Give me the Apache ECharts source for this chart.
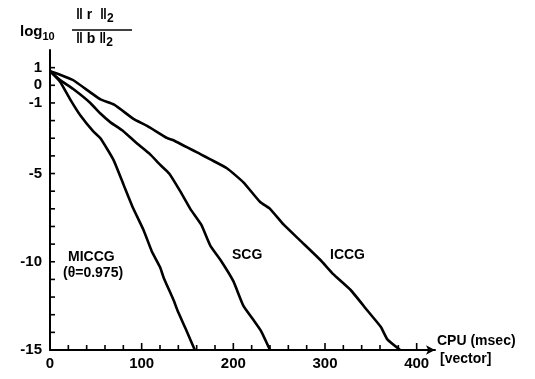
<!DOCTYPE html>
<html>
<head>
<meta charset="utf-8">
<script src="https://cdn.jsdelivr.net/npm/echarts@6/dist/echarts.min.js"></script>
<style>
  html, body { margin: 0; padding: 0; background: #fff; }
  #chart { width: 535px; height: 379px; }
</style>
</head>
<body>
<div id="chart"></div>
<script>
// CPU time (msec) vs log10 residual
const miccgCpu = [0, 11, 22, 33, 47, 55, 69, 80, 91, 102, 111, 120, 124, 135, 139, 148, 158]
const miccgRes = [0.8, 0.2, -0.8, -1.7, -2.6, -3.0, -4.2, -5.6, -7.0, -8.2, -9.4, -10.3, -10.9, -12.2, -12.75, -13.8, -15]

const scgCpu = [0, 11, 25, 44, 55, 66, 80, 95, 109, 120, 130, 142, 153, 165, 175, 186, 200, 211, 222, 230, 240]
const scgRes = [0.8, 0.3, -0.2, -1.0, -1.6, -2.1, -2.6, -3.3, -3.9, -4.5, -5.0, -6.0, -7.0, -7.9, -9.1, -9.9, -11.1, -12.5, -13.3, -13.9, -15]

const iccgCpu = [0, 11, 25, 44, 55, 70, 91, 106, 128, 134, 164, 175, 193, 211, 229, 240, 255, 273, 295, 309, 328, 346, 361, 368, 382]
const iccgRes = [0.8, 0.6, 0.3, -0.4, -0.8, -1.1, -1.9, -2.3, -3.0, -3.1, -3.9, -4.2, -4.7, -5.5, -6.6, -7.0, -7.9, -8.8, -9.9, -10.7, -11.6, -12.75, -13.7, -14.4, -15]

const xTickLabels = [0, 100, 200, 300, 400]
const yTickLabels = [1, 0, -1, -5, -10, -15]

const font = 'Liberation Sans'

function pairs(xs, ys) {
  return xs.map((x, i) => [x, ys[i]])
}

function lineSeries(name, xs, ys) {
  return {
    name: name,
    type: 'line',
    data: pairs(xs, ys),
    showSymbol: false,
    smooth: 0.15,
    lineStyle: { color: '#000', width: 2.6 },
    silent: true
  }
}

function label(text, left, top) {
  return {
    type: 'text',
    left: left,
    top: top,
    style: { text: text, fontFamily: font, fontWeight: 'bold', fontSize: 14, fill: '#000' }
  }
}

const chart = echarts.init(document.getElementById('chart'))
chart.setOption({
  animation: false,
  backgroundColor: '#fff',
  grid: { left: 50, right: 100, top: 50, bottom: 29 },
  xAxis: {
    type: 'value',
    min: 0,
    max: 420,
    interval: 20,
    axisLine: {
      show: true,
      onZero: false,
      symbol: ['none', 'arrow'],
      symbolSize: [7, 9],
      lineStyle: { color: '#000', width: 2 }
    },
    axisTick: { show: false },
    splitLine: { show: false },
    axisLabel: {
      color: '#000',
      fontFamily: font,
      fontWeight: 'bold',
      fontSize: 15,
      margin: 6,
      formatter: function(v) {
        return xTickLabels.indexOf(v) >= 0 ? String(v) : ''
      }
    }
  },
  yAxis: {
    type: 'value',
    min: -15,
    max: 2,
    interval: 1,
    axisLine: { show: true, onZero: false, lineStyle: { color: '#000', width: 2 } },
    axisTick: { show: false },
    splitLine: { show: false },
    axisLabel: {
      color: '#000',
      fontFamily: font,
      fontWeight: 'bold',
      fontSize: 15,
      margin: 8,
      formatter: function(v) {
        return yTickLabels.indexOf(v) >= 0 ? String(v) : ''
      }
    }
  },
  series: [
    lineSeries('MICCG', miccgCpu, miccgRes),
    lineSeries('SCG', scgCpu, scgRes),
    lineSeries('ICCG', iccgCpu, iccgRes)
  ]
})

// small inward ticks, placed through the chart's own scales
const ticks = []
for (let v = 0; v <= 400; v += 20) {
  const p = chart.convertToPixel({ xAxisIndex: 0, yAxisIndex: 0 }, [v, -15])
  const len = v % 100 === 0 ? 7 : 5
  ticks.push({
    type: 'line',
    shape: { x1: p[0], y1: p[1], x2: p[0], y2: p[1] - len },
    style: { stroke: '#000', lineWidth: 1.6 }
  })
}
for (let v = -14; v <= 1; v += 1) {
  const p = chart.convertToPixel({ xAxisIndex: 0, yAxisIndex: 0 }, [0, v])
  ticks.push({
    type: 'line',
    shape: { x1: p[0], y1: p[1], x2: p[0] + 5, y2: p[1] },
    style: { stroke: '#000', lineWidth: 1.6 }
  })
}

chart.setOption({
  graphic: [
    {
      type: 'text',
      left: 20,
      top: 24,
      style: {
        text: '{a|log}{s|10}',
        rich: {
          a: { fontFamily: font, fontWeight: 'bold', fontSize: 15, fill: '#000' },
          s: { fontFamily: font, fontWeight: 'bold', fontSize: 11, fill: '#000', padding: [10, 0, 0, 0] }
        }
      }
    },
    {
      type: 'text',
      left: 76,
      top: 8,
      style: {
        text: '{a|‖ r  ‖}{s|2}',
        rich: {
          a: { fontFamily: font, fontWeight: 'bold', fontSize: 14, fill: '#000' },
          s: { fontFamily: font, fontWeight: 'bold', fontSize: 12, fill: '#000', padding: [8, 0, 0, 0] }
        }
      }
    },
    {
      type: 'line',
      shape: { x1: 72, y1: 30, x2: 132, y2: 30 },
      style: { stroke: '#000', lineWidth: 1.5 }
    },
    {
      type: 'text',
      left: 76,
      top: 32,
      style: {
        text: '{a|‖ b ‖}{s|2}',
        rich: {
          a: { fontFamily: font, fontWeight: 'bold', fontSize: 14, fill: '#000' },
          s: { fontFamily: font, fontWeight: 'bold', fontSize: 12, fill: '#000', padding: [8, 0, 0, 0] }
        }
      }
    },
    label('CPU (msec)', 437, 334),
    label('[vector]', 440, 352),
    label('MICCG', 68, 250),
    label('(θ=0.975)', 63, 266),
    label('SCG', 232, 248),
    label('ICCG', 330, 248)
  ].concat(ticks)
})
</script>
</body>
</html>
